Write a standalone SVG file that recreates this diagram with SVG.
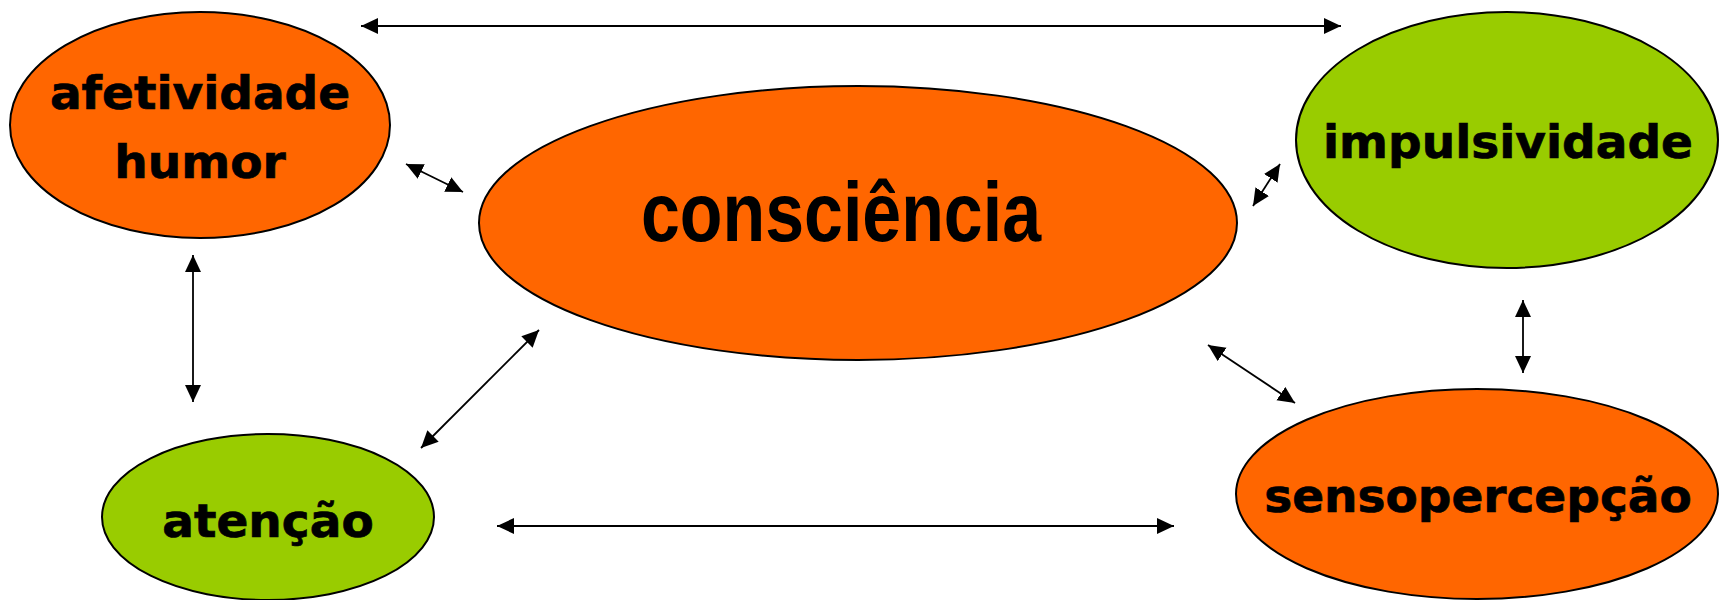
<svg xmlns="http://www.w3.org/2000/svg" width="1719" height="600" viewBox="0 0 1719 600">
<style>
.n{stroke:#000;stroke-width:2}
.o{fill:#FF6600}
.g{fill:#99CC00}
.t{font-family:"DejaVu Sans",Verdana,sans-serif;font-weight:bold;font-size:47px;fill:#000;stroke:#000;stroke-width:0.7;text-anchor:middle}
.big{font-family:"Liberation Sans",Arial,sans-serif;font-weight:bold;font-size:84px;fill:#000;text-anchor:middle}
.c{stroke:#000;stroke-width:1.8;fill:none;marker-start:url(#ah);marker-end:url(#ah)}
</style>
<defs>
<marker id="ah" markerUnits="userSpaceOnUse" markerWidth="18" markerHeight="18" refX="17" refY="8" orient="auto-start-reverse" viewBox="0 0 18 18">
<path d="M0,0 L17,8 L0,16 z" fill="#000"/>
</marker>
</defs>
<rect width="1719" height="600" fill="#fff"/>
<g id="connectors">
<line class="c" x1="361" y1="26" x2="1341" y2="26"/>
<line class="c" x1="406" y1="164" x2="463" y2="192"/>
<line class="c" x1="1280" y1="164" x2="1253" y2="206"/>
<line class="c" x1="193" y1="255" x2="193" y2="402"/>
<line class="c" x1="421" y1="448" x2="539" y2="330"/>
<line class="c" x1="1523" y1="300" x2="1523" y2="373"/>
<line class="c" x1="1208" y1="345" x2="1295" y2="403"/>
<line class="c" x1="497" y1="526" x2="1174" y2="526"/>
</g>
<g id="afetividade">
<ellipse class="n o" cx="200" cy="125" rx="190" ry="113"/>
<text class="t" x="200" y="109">afetividade</text>
<text class="t" x="200" y="178">humor</text>
</g>
<g id="impulsividade">
<ellipse class="n g" cx="1507" cy="140" rx="211" ry="128"/>
<text class="t" x="1508" y="158">impulsividade</text>
</g>
<g id="consciencia">
<ellipse class="n o" cx="858" cy="223" rx="379" ry="137"/>
<text class="big" x="841" y="241" textLength="400" lengthAdjust="spacingAndGlyphs">consciência</text>
</g>
<g id="atencao">
<ellipse class="n g" cx="268" cy="517" rx="166" ry="83"/>
<text class="t" x="268" y="537">atenção</text>
</g>
<g id="sensopercepcao">
<ellipse class="n o" cx="1477" cy="494" rx="241" ry="105"/>
<text class="t" x="1478" y="512">sensopercepção</text>
</g>
</svg>
